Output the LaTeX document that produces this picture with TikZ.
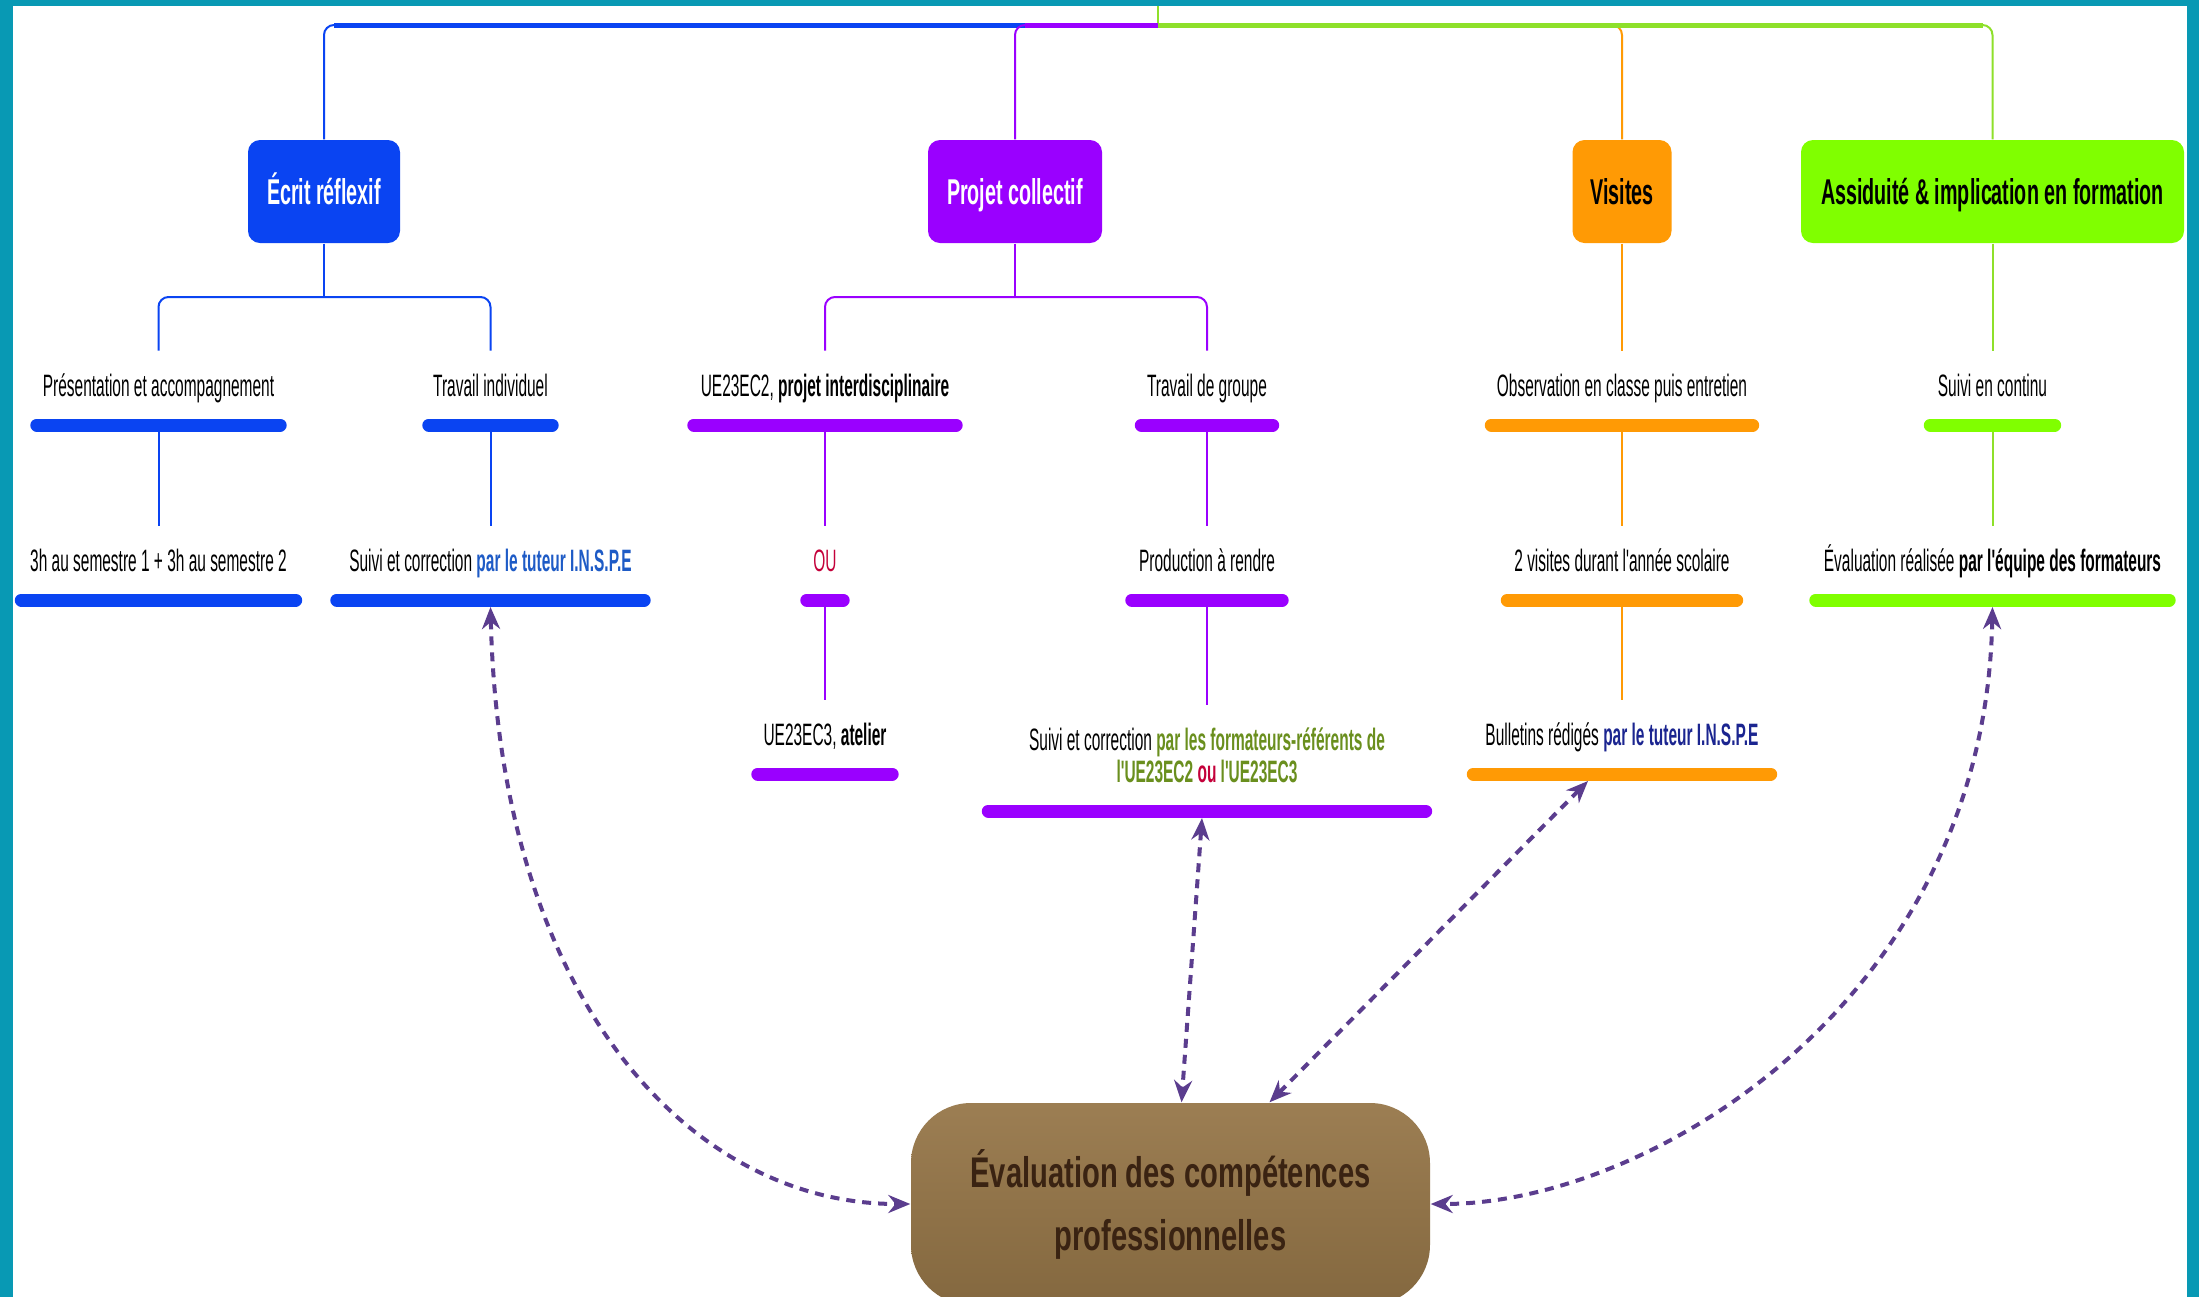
\documentclass[tikz,border=0pt]{standalone}
\usepackage{fontspec}
\setmainfont{Liberation Sans}
\newfontfamily\leaffont{Liberation Sans}[FakeStretch=0.5]
\newfontfamily\boxfont{Liberation Sans}[FakeStretch=0.55]
\newfontfamily\evalfont{Liberation Sans}[FakeStretch=0.68]
\usetikzlibrary{arrows.meta}
\definecolor{framecol}{HTML}{0899B4}
\definecolor{ecrit}{HTML}{0A44F2}
\definecolor{projet}{HTML}{9A00FF}
\definecolor{visite}{HTML}{FF9A05}
\definecolor{assid}{HTML}{80FF00}
\definecolor{assidline}{HTML}{8EE02A}
\definecolor{linkcol}{HTML}{5B3D8E}
\definecolor{evaltop}{HTML}{9C7E53}
\definecolor{evalbot}{HTML}{84683F}
\definecolor{evaltext}{HTML}{3A2312}
\definecolor{tutblue}{HTML}{1E5BC6}
\definecolor{navyblue}{HTML}{1B2590}
\definecolor{olivetxt}{HTML}{6A8F1E}
\definecolor{oured}{HTML}{C4003A}
\tikzset{
  topbox/.style={rounded corners=1.2mm, inner sep=0pt, minimum height=10.3mm,
    text height=3.4mm, text depth=0.8mm,
    font=\boxfont\bfseries\fontsize{10.2pt}{12pt}\selectfont},
  leaf/.style={anchor=south, inner xsep=0pt, inner ysep=2.1mm, text height=2.4mm,
    text depth=0.7mm, font=\leaffont\fontsize{8.8pt}{3.2mm}\selectfont},
  bar/.style={line width=1.3mm, line cap=round},
  twig/.style={line width=0.2mm, rounded corners=1mm},
  trunk/.style={line width=0.5mm},
  link/.style={draw=linkcol, line width=0.4mm, dash pattern=on 0.9mm off 0.7mm,
    {Stealth[length=2.2mm,width=1.8mm]}-{Stealth[length=2.2mm,width=1.8mm]}},
  evalbox/.style={rounded corners=6mm, top color=evaltop, bottom color=evalbot,
    minimum width=51.9mm, minimum height=20.2mm, inner sep=0pt, align=center,
    text=evaltext, font=\evalfont\bfseries\fontsize{12.2pt}{6.3mm}\selectfont}
}
\begin{document}
\begin{tikzpicture}[x=0.1mm,y=-0.1mm]
\useasboundingbox (0,0) rectangle (2199,1297);
\fill[framecol] (0,0) rectangle (2199,1297);
\fill[white] (13,6) rectangle (2187,1297);
\path
  (1158,25) coordinate (root)
  (1158,6) coordinate (top)
  (324,297) coordinate (ecritfork)
  (1015,297) coordinate (projetfork);

\node[topbox, fill=ecrit, text=white, minimum width=15.2mm] (ecrit) at (324,191.5) {Écrit réflexif};
\node[topbox, fill=projet, text=white, minimum width=17.4mm] (projet) at (1015,191.5) {Projet collectif};
\node[topbox, fill=visite, minimum width=9.9mm] (visites) at (1622,191.5) {Visites};
\node[topbox, fill=assid, minimum width=38.3mm] (assid) at (1992.5,191.5) {Assiduité \& implication en formation};

\node[leaf, minimum width=24.2mm] (pres) at (158.5,425) {Présentation et accompagnement};
\node[leaf, minimum width=12.2mm] (indiv) at (490.5,425) {Travail individuel};
\node[leaf, minimum width=26.1mm] (ue2) at (825,425) {UE23EC2, \textbf{projet interdisciplinaire}};
\node[leaf, minimum width=13mm] (groupe) at (1207,425) {Travail de groupe};
\node[leaf, minimum width=26mm] (obs) at (1622,425) {Observation en classe puis entretien};
\node[leaf, minimum width=12.3mm] (continu) at (1992.5,425) {Suivi en continu};

\node[leaf, minimum width=27.3mm] (sem) at (158.5,600) {3h au semestre 1 + 3h au semestre 2};
\node[leaf, minimum width=30.6mm] (tuteur) at (490.5,600) {Suivi et correction \textcolor{tutblue}{\textbf{par le tuteur I.N.S.P.E}}};
\node[leaf, minimum width=3.5mm] (ou) at (825,600) {\textcolor{oured}{OU}};
\node[leaf, minimum width=14.9mm] (prod) at (1207,600) {Production à rendre};
\node[leaf, minimum width=22.8mm] (visdeux) at (1622,600) {2 visites durant l'année scolaire};
\node[leaf, minimum width=35.2mm] (equipe) at (1992.5,600) {Évaluation réalisée \textbf{par l'équipe des formateurs}};

\node[leaf, minimum width=13.3mm] (atelier) at (825,774) {UE23EC3, \textbf{atelier}};
\node[leaf, minimum width=43.6mm, align=center, text height=5.6mm] (formateurs) at (1207,811)
  {Suivi et correction \textcolor{olivetxt}{\textbf{par les formateurs-référents de}}\\
   \textcolor{olivetxt}{\textbf{l'UE23EC2}} \textcolor{oured}{\textbf{ou}} \textcolor{olivetxt}{\textbf{l'UE23EC3}}};
\node[leaf, minimum width=29.6mm] (bulletins) at (1622,774) {Bulletins rédigés \textcolor{navyblue}{\textbf{par le tuteur I.N.S.P.E}}};

\node[evalbox] (eval) at (1170.5,1204) {Évaluation des compétences\\professionnelles};

\draw[twig, assidline] (root) -- (top);
\draw[twig, ecrit] (root) -| (ecrit.north);
\draw[trunk, ecrit] (root) -- ([xshift=1mm]ecrit.north |- root);
\draw[twig, projet] (root) -| (projet.north);
\draw[trunk, projet] (root) -- ([xshift=1mm]projet.north |- root);
\draw[twig, visite] (root) -| (visites.north);
\draw[trunk, visite] (root) -- ([xshift=-1mm]visites.north |- root);
\draw[twig, assidline] (root) -| (assid.north);
\draw[trunk, assidline] (root) -- ([xshift=-1mm]assid.north |- root);

\draw[twig, ecrit] (ecrit.south) -- (ecritfork);
\draw[twig, ecrit] (pres.north) |- (ecritfork) -| (indiv.north);
\draw[twig, projet] (projet.south) -- (projetfork);
\draw[twig, projet] (ue2.north) |- (projetfork) -| (groupe.north);
\draw[twig, visite] (visites.south) -- (obs.north);
\draw[twig, assidline] (assid.south) -- (continu.north);

\foreach \a/\b/\c in {pres/sem/ecrit, indiv/tuteur/ecrit, ue2/ou/projet, ou/atelier/projet,
  groupe/prod/projet, prod/formateurs/projet, obs/visdeux/visite, visdeux/bulletins/visite,
  continu/equipe/assidline}
  \draw[twig, \c] (\a.south) -- (\b.north);

\foreach \n/\c in {pres/ecrit, indiv/ecrit, sem/ecrit, tuteur/ecrit, ue2/projet, groupe/projet,
  ou/projet, prod/projet, atelier/projet, formateurs/projet, obs/visite, visdeux/visite,
  bulletins/visite, continu/assid, equipe/assid}
  \draw[bar, \c] (\n.south west) -- (\n.south east);

\draw[link] ([yshift=-0.7mm]tuteur.south) .. controls (500,1000) and (690,1204) .. (eval.west);
\draw[link] ([yshift=-0.7mm]equipe.south) .. controls (1985,1000) and (1650,1204) .. (eval.east);
\draw[link] ([xshift=-0.5mm,yshift=-0.7mm]formateurs.south) -- ([xshift=1.1mm]eval.north);
\draw[link] ([xshift=-3.4mm,yshift=-0.7mm]bulletins.south) -- ([xshift=9.9mm]eval.north);
\end{tikzpicture}
\end{document}
